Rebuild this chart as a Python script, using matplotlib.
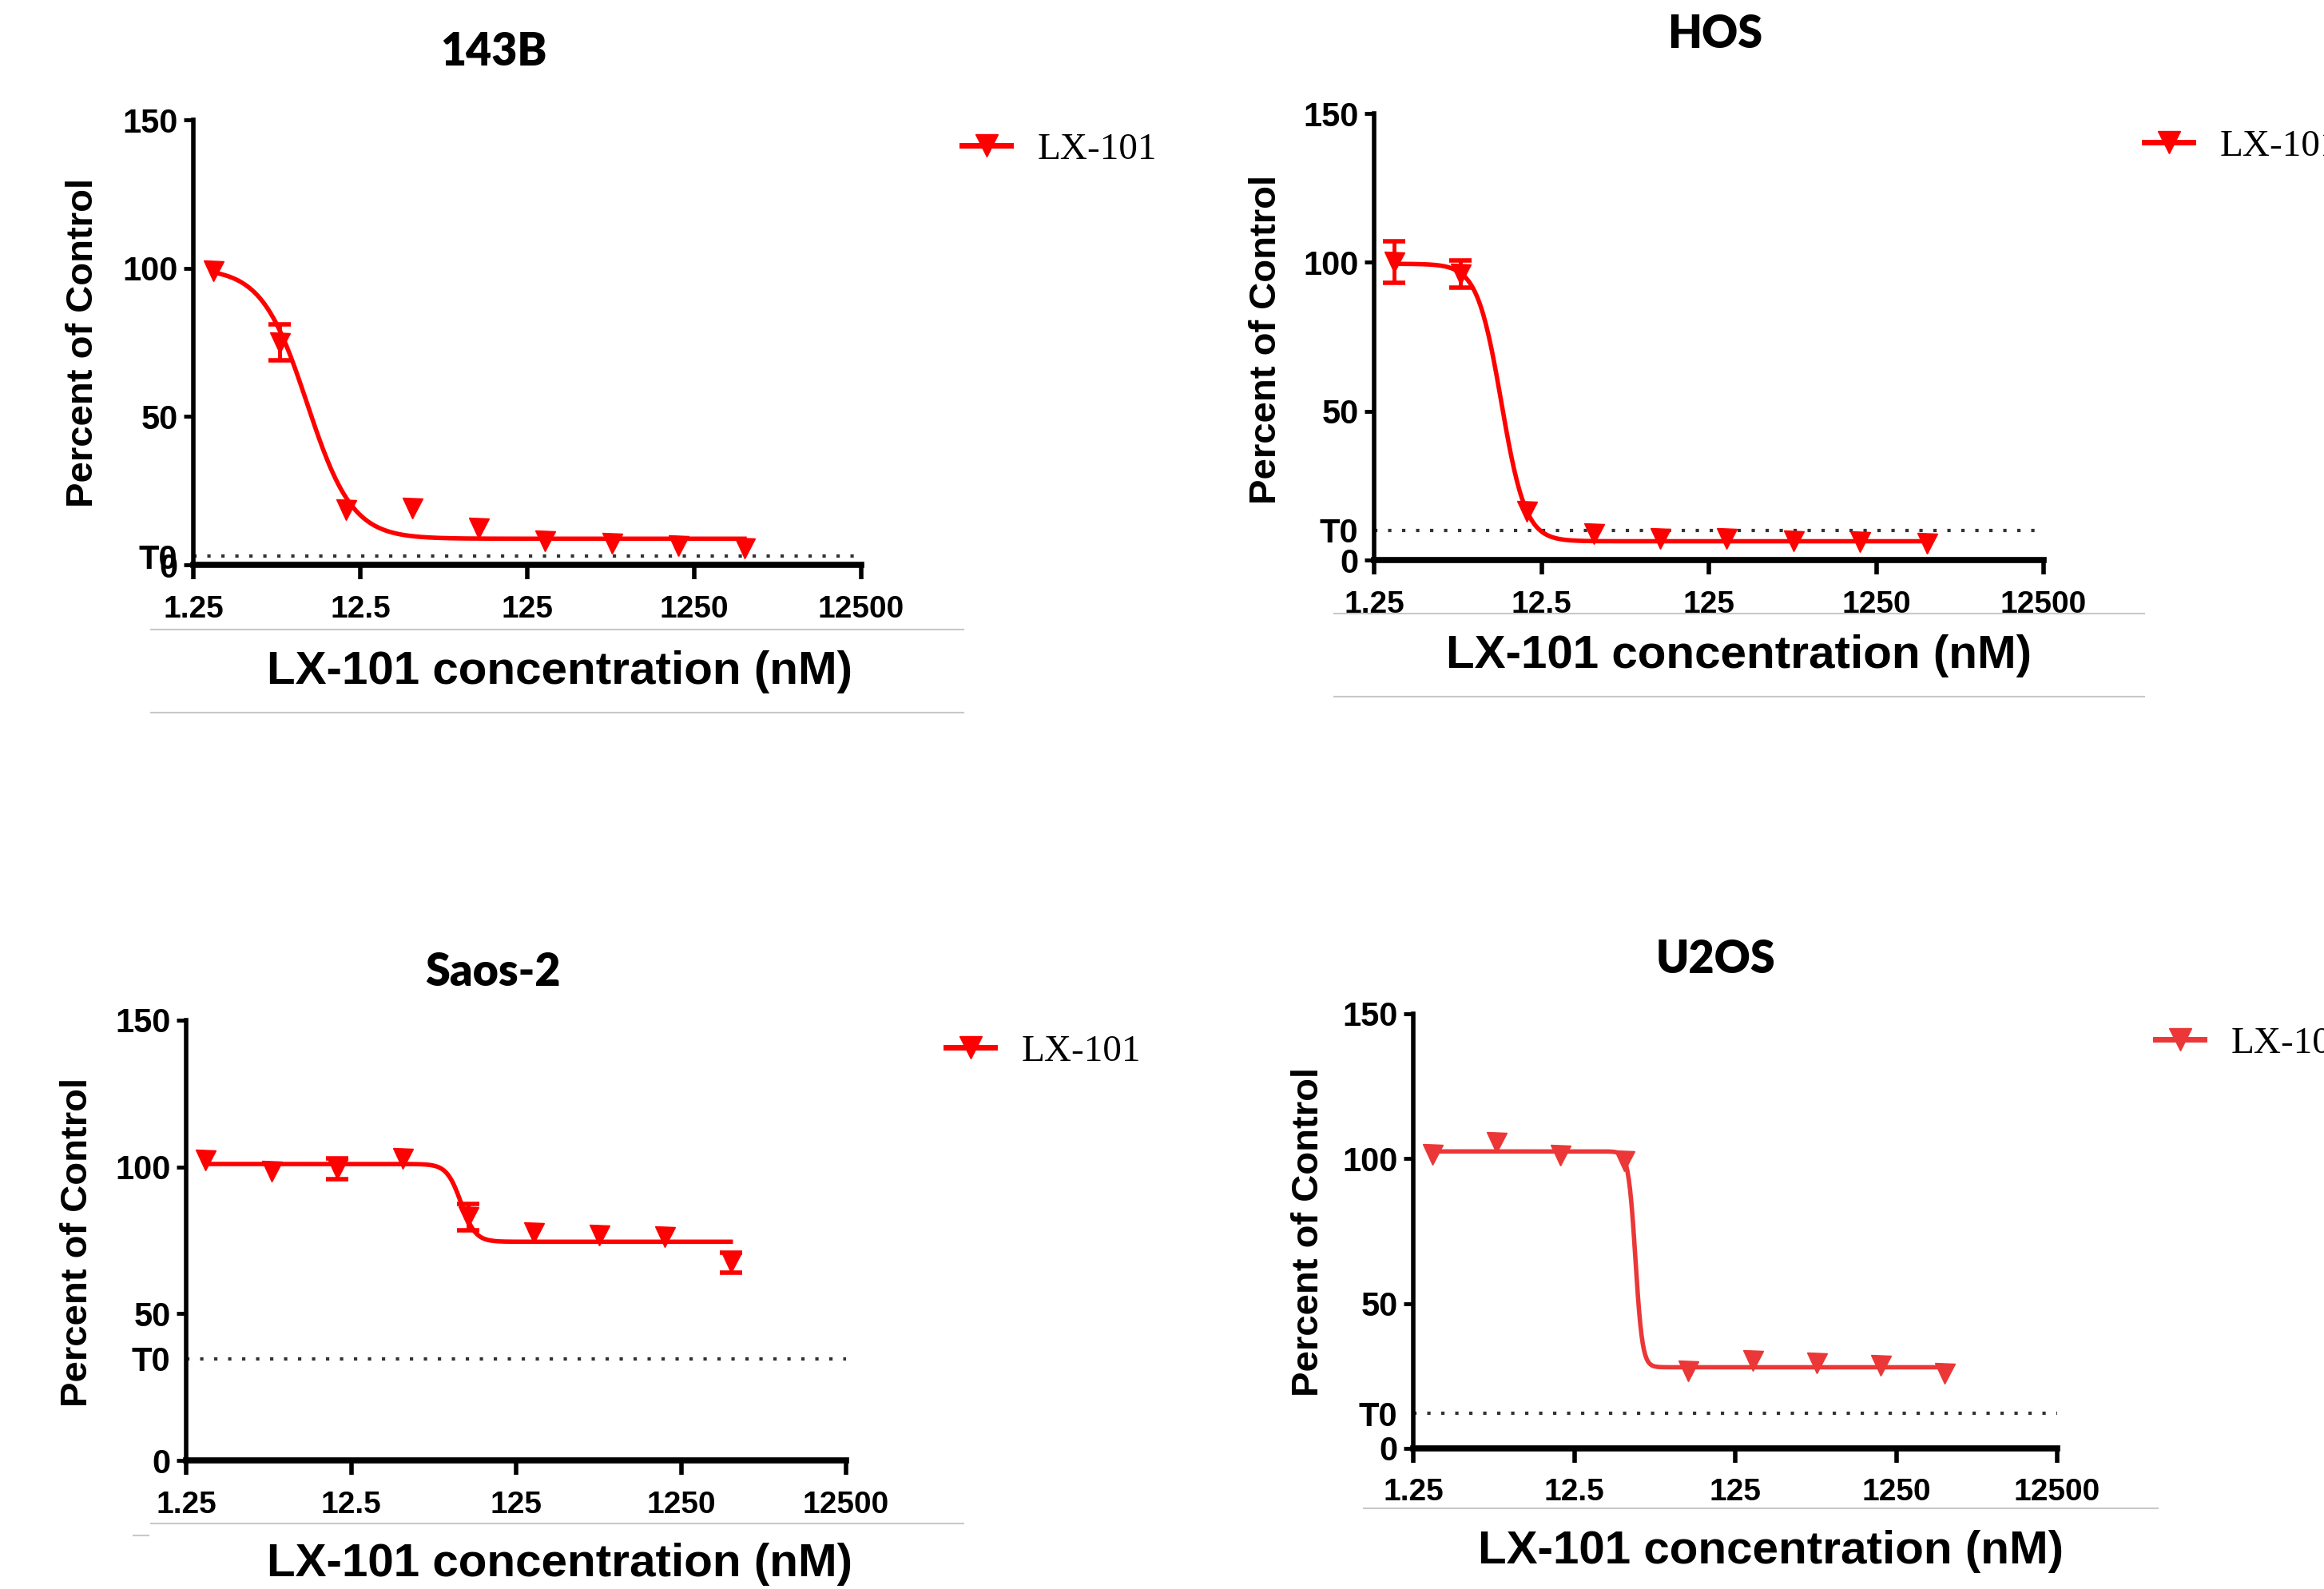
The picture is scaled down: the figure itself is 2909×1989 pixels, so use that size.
import matplotlib
matplotlib.use("Agg")
import matplotlib.pyplot as plt
import numpy as np
from matplotlib.lines import Line2D
from matplotlib.ticker import NullLocator

W, H = 2909, 1989

# concentrations (nM), same for every cell line
conc = [1.64, 4.1, 10.24, 25.6, 64, 160, 400, 1000, 2500]
cells = ["143B", "HOS", "Saos-2", "U2OS"]

# percent of control (mean, error)
pct_143b = [99, 75, 18.5, 19, 12.5, 8, 7.3, 6.5, 5.7]
err_143b = [0, 6, 0, 0, 0, 0, 0, 0, 0]
pct_hos = [100, 96, 16.5, 8.8, 7.2, 7.2, 6.5, 6.2, 5.7]
err_hos = [7, 4.5, 0, 0, 0, 0, 0, 0, 0]
pct_saos = [102.3, 98.5, 99.3, 102.8, 83, 77.6, 76.9, 76.1, 67.4]
err_saos = [0, 0, 3.5, 0, 4.5, 0, 0, 0, 3.5]
pct_u2os = [101.6, 105.7, 101.2, 99.4, 26.8, 30.2, 29.5, 28.7, 25.8]
err_u2os = [0, 0, 0, 0, 0, 0, 0, 0, 0]

# T0 reference level
t0 = [2.9, 10, 34.6, 12]

# 4PL fit parameters
fit_top = [100, 99.5, 101, 102.5]
fit_bottom = [8.8, 6.3, 74.5, 28]
fit_ec50 = [6.0, 7.2, 58, 30]
fit_hill = [3.2, 6, 10, 20]

xticks = [1.25, 12.5, 125, 1250, 12500]
xticklabels = ["1.25", "12.5", "125", "1250", "12500"]
yticks = [0, 50, 100, 150]

pcts = [pct_143b, pct_hos, pct_saos, pct_u2os]
errs = [err_143b, err_hos, err_saos, err_u2os]
colors = ["#ff0000", "#ff0000", "#ff0000", "#eb3737"]

# layout in pixels: axes (left, top, right, bottom)
ax_box = [(242, 150, 1078, 707), (1720, 142, 2558, 701),
          (233, 1277, 1059, 1828), (1769, 1269, 2575, 1813)]
title_xy = [(618, 65), (2147, 43), (617, 1217), (2147, 1201)]
ylab_xy = [(104, 429), (1585, 425), (97, 1555), (1638, 1542)]
xlab_xy = [(700, 841), (2176, 821), (700, 1958), (2217, 1942)]
leg_xy = [(1204, 187), (2684, 183), (1184, 1316), (2698, 1306)]
gray_lines = [(189, 1206, 788), (189, 1206, 892), (1670, 2684, 768), (1670, 2684, 872),
              (189, 1206, 1907), (167, 186, 1922), (1707, 2701, 1888)]

SANS = ["Liberation Sans", "DejaVu Sans"]

fig = plt.figure(figsize=(W / 100, H / 100), dpi=100)
fig.patch.set_facecolor("white")

for i in range(4):
    l, t, r, b = ax_box[i]
    ax = fig.add_axes([l / W, 1 - b / H, (r - l) / W, (b - t) / H])
    c = colors[i]
    x = np.array(conc)
    y = np.array(pcts[i])
    e = np.array(errs[i])

    # fitted curve
    xs = np.logspace(np.log10(conc[0]), np.log10(conc[-1]), 400)
    ys = fit_bottom[i] + (fit_top[i] - fit_bottom[i]) / (1 + (xs / fit_ec50[i]) ** fit_hill[i])
    ax.plot(xs, ys, color=c, lw=4, zorder=3)

    m = e > 0
    if m.any():
        ax.errorbar(x[m], y[m], yerr=e[m], fmt="none", ecolor=c, elinewidth=3.5,
                    capsize=10, capthick=4, zorder=4)
    ax.plot(x, y, linestyle="none", marker="v", markersize=18, color=c, zorder=5, clip_on=False)

    # T0 dotted line
    ax.plot([1.25, 12500], [t0[i], t0[i]], color="#333333", lw=3,
            linestyle=(0, (1, 3.2)), zorder=2)

    ax.set_xscale("log")
    ax.set_xlim(1.25, 12500)
    ax.set_ylim(0, 150)
    ax.set_xticks(xticks)
    ax.set_xticklabels(xticklabels)
    ax.xaxis.set_minor_locator(NullLocator())
    ax.set_yticks(yticks)
    ax.set_yticklabels([str(v) for v in yticks])
    ax.set_yticks([t0[i]], minor=True)
    ax.set_yticklabels(["T0"], minor=True)

    for s in ["top", "right"]:
        ax.spines[s].set_visible(False)
    ax.spines["bottom"].set_linewidth(5.5)
    ax.spines["left"].set_linewidth(4)
    ax.tick_params(axis="x", which="major", length=13, width=4, pad=14)
    ax.tick_params(axis="y", which="major", length=9, width=3.5, pad=5)
    ax.tick_params(axis="y", which="minor", length=0, pad=14)
    for lab in ax.get_xticklabels():
        lab.set_fontfamily(SANS)
        lab.set_fontweight("bold")
        lab.set_fontsize(28)
    for lab in ax.get_yticklabels() + ax.get_yticklabels(minor=True):
        lab.set_fontfamily(SANS)
        lab.set_fontweight("bold")
        lab.set_fontsize(30)

    handle = Line2D([], [], color=c, lw=5, marker="v", markersize=20)
    lx, ly = leg_xy[i]
    ax.legend([handle], ["LX-101"], loc="center left", bbox_to_anchor=(lx / W, 1 - ly / H),
              bbox_transform=fig.transFigure, frameon=False, borderpad=0, borderaxespad=0,
              handlelength=1.3, handletextpad=0.7,
              prop={"family": ["Liberation Serif", "DejaVu Serif"], "size": 34})

    tx, ty = title_xy[i]
    fig.text(tx / W, 1 - ty / H, cells[i], ha="center", va="center",
             fontsize=40, fontweight="heavy", family=["Lato", "DejaVu Sans"])
    yx, yy = ylab_xy[i]
    fig.text(yx / W, 1 - yy / H, "Percent of Control", ha="center", va="center",
             rotation=90, fontsize=34, fontweight="bold", family=SANS)
    xx, xy = xlab_xy[i]
    fig.text(xx / W, 1 - xy / H, "LX-101 concentration (nM)", ha="center", va="center",
             fontsize=42, fontweight="bold", family=SANS)

for x0, x1, yy in gray_lines:
    fig.add_artist(Line2D([x0 / W, x1 / W], [1 - yy / H, 1 - yy / H],
                          transform=fig.transFigure, color="#c8c8c8", lw=1.5))

fig.savefig("out.png", dpi=100, facecolor="white")
